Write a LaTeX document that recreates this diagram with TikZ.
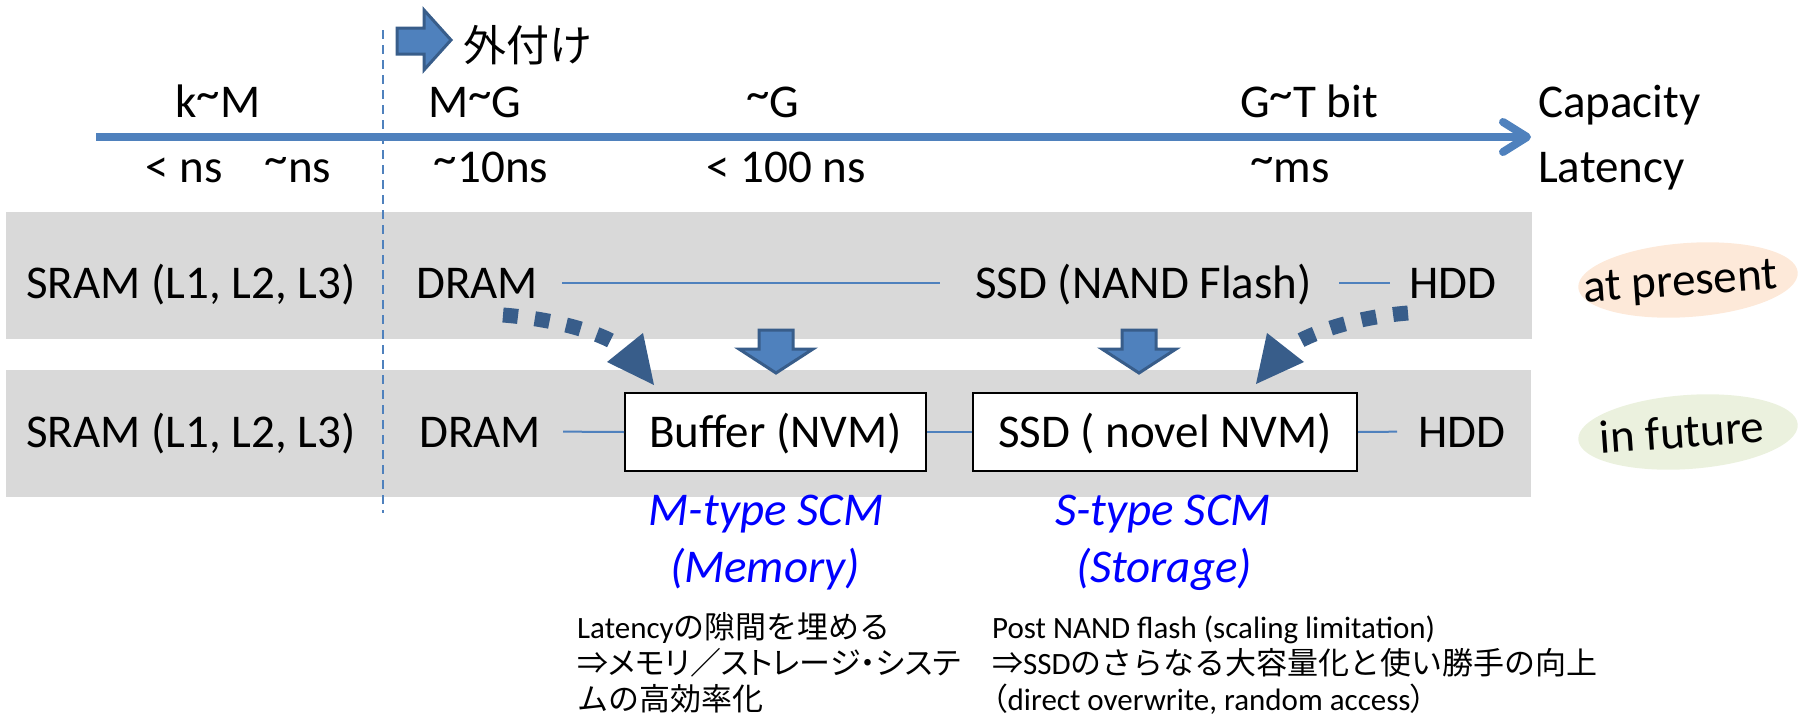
\documentclass[tikz,border=0pt]{standalone}
\usepackage{fontspec}
\setmainfont{Carlito}
\newfontfamily\jp{Noto Sans CJK JP}
\newfontfamily\jpp[RawFeature=+palt]{Noto Sans CJK JP}
\usetikzlibrary{calc}
\definecolor{axblue}{RGB}{79,129,189}
\definecolor{dkblue}{RGB}{56,93,138}
\definecolor{bandgray}{RGB}{217,217,217}
\definecolor{peach}{RGB}{253,233,217}
\definecolor{olivel}{RGB}{235,241,222}
\definecolor{scmblue}{RGB}{0,0,255}
\newcommand\mytil{\raisebox{8pt}{\textasciitilde}}
\begin{document}
\begin{tikzpicture}[x=1pt,y=-1pt,
 big/.style={inner sep=0pt,font=\fontsize{47}{56}\selectfont},
 small/.style={inner sep=0pt,font=\fontsize{31}{36}\selectfont,anchor=base west},
 rowtext/.style={big,anchor=base west,text height=31pt,text depth=0pt},
 lab/.style={big,anchor=base},
 labl/.style={big,anchor=base west},
 scm/.style={inner sep=0pt,anchor=base,text=scmblue,font=\fontsize{47}{56}\selectfont\itshape},
 membox/.style={big,draw=black,line width=2pt,fill=white,text height=31pt,text depth=0pt,minimum height=78pt},
 link/.style={axblue,line width=2pt},
 axis/.style={axblue,line width=8pt},
 dotarr/.style={dkblue,line width=15pt,dash pattern=on 15pt off 17pt},
 blockarrow/.style={fill=axblue,draw=dkblue,line width=3pt,line join=miter},
 downarr/.pic={\filldraw[blockarrow] (-17,-45) -- (17,-45) -- (17,-26) -- (37,-26) -- (0,-2) -- (-37,-26) -- (-17,-26) -- cycle;},
]
\useasboundingbox (0,0) rectangle (1799,720);
% bands
\fill[bandgray] (6,212) rectangle (1532,339);
\fill[bandgray] (6,370) rectangle (1531,497);
% dashed boundary
\draw[axblue,line width=1.5pt,dash pattern=on 9pt off 6pt] (383,30) -- (383,513);
% external arrow
\filldraw[blockarrow] (397,28) -- (424,28) -- (424,10) -- (451,40) -- (424,70) -- (424,54) -- (397,54) -- cycle;
\node[inner sep=0pt,anchor=base west,font=\jp\fontsize{43}{50}\selectfont] (ext) at (463,61) {外付け};
% axis
\coordinate (axs) at (96,137);
\coordinate (axe) at (1527,137);
\draw[axis] (axs) -- (axe);
\draw[axis,line cap=round,line join=round] ($(axe)+(-24,-15)$) -- (axe) -- ($(axe)+(-24,15)$);
% capacity labels
\node[lab] (capkm) at (218,117) {k\mytil M};
\node[lab] (capmg) at (475,117) {M\mytil G};
\node[lab] (capg) at (773,117) {\mytil G};
\node[lab] (capgt) at (1309,117) {G\mytil T bit};
\node[labl] (capacity) at (1538,117) {Capacity};
\node[labl] (latency) at (1538,182) {Latency};
\node[lab] (latns) at (184,182) {< ns};
\node[lab] (latns2) at (298,182) {\mytil ns};
\node[lab] (lat10) at (491,182) {\mytil 10ns};
\node[lab] (lat100) at (786,182) {< 100 ns};
\node[lab] (latms) at (1290,182) {\mytil ms};
% row 1
\node[rowtext] (sram1) at (26,298) {SRAM (L1, L2, L3)};
\node[rowtext] (dram1) at (416,298) {DRAM};
\node[rowtext] (ssd1) at (975,298) {SSD (NAND Flash)};
\node[rowtext] (hdd1) at (1409,298) {HDD};
\draw[link,shorten <=24pt,shorten >=35pt] (dram1.east) -- (ssd1.west);
\draw[link,shorten <=27pt,shorten >=19pt] (ssd1.east) -- (hdd1.west);
% row 2
\node[rowtext] (sram2) at (26,447) {SRAM (L1, L2, L3)};
\node[rowtext] (dram2) at (419,447) {DRAM};
\node[membox,minimum width=301pt] (buf) at (775.5,432) {Buffer (NVM)};
\node[membox,minimum width=384pt] (ssd2) at (1165,432) {SSD ( novel NVM)};
\node[rowtext] (hdd2) at (1418,447) {HDD};
\draw[link,shorten <=22pt] (dram2.east) -- (buf.west);
\draw[link] (buf.east) -- (ssd2.west);
\draw[link,shorten >=21pt] (ssd2.east) -- (hdd2.west);
% down arrows
\pic at (776,375) {downarr};
\pic at (1139,375) {downarr};
% dotted arrows
\coordinate (dA) at (503,315);
\coordinate (hA) at (617,344);
\draw[dotarr] (dA) .. controls (553,319) and (595,331) .. (hA);
\fill[dkblue] (607,362) -- (643,333) -- (654,385) -- cycle;
\coordinate (dB) at (1408,313);
\coordinate (hB) at (1294,344);
\draw[dotarr] (dB) .. controls (1358,317) and (1316,331) .. (hB);
\fill[dkblue] (1267,333) -- (1304,362) -- (1256,384) -- cycle;
% ellipses
\fill[peach,rotate around={4:(1688,280)}] (1688,280) ellipse [x radius=110,y radius=37];
\node[big,rotate=4,text height=31pt,text depth=0pt] (present) at (1680,280) {at present};
\fill[olivel,rotate around={4:(1688,432)}] (1688,432) ellipse [x radius=110,y radius=37];
\node[big,rotate=4,text height=31pt,text depth=0pt] (future) at (1682,432) {in future};
% SCM labels
\node[scm] (mtype) at (766,525) {M-type SCM};
\node[scm] (mmem) at (765,582) {(Memory)};
\node[scm] (stype) at (1163,525) {S-type SCM};
\node[scm] (sstor) at (1164,582) {(Storage)};
% notes
\node[small] (l1) at (577,638) {Latency{\jp の隙間を埋める}};
\node[small] (l2) at (577,674) {{\jpp ⇒メモリ／ストレージ・システ}};
\node[small] (l3) at (577,710) {{\jp ムの高効率化}};
\node[small] (r1) at (992,638) {Post NAND flash (scaling limitation)};
\node[small] (r2) at (992,674) {{\jp ⇒}SSD{\jp のさらなる大容量化と使い勝手の向上}};
\node[small] (r3) at (992,710) {{\jpp （}direct overwrite, random access{\jpp ）}};
\end{tikzpicture}
\end{document}
